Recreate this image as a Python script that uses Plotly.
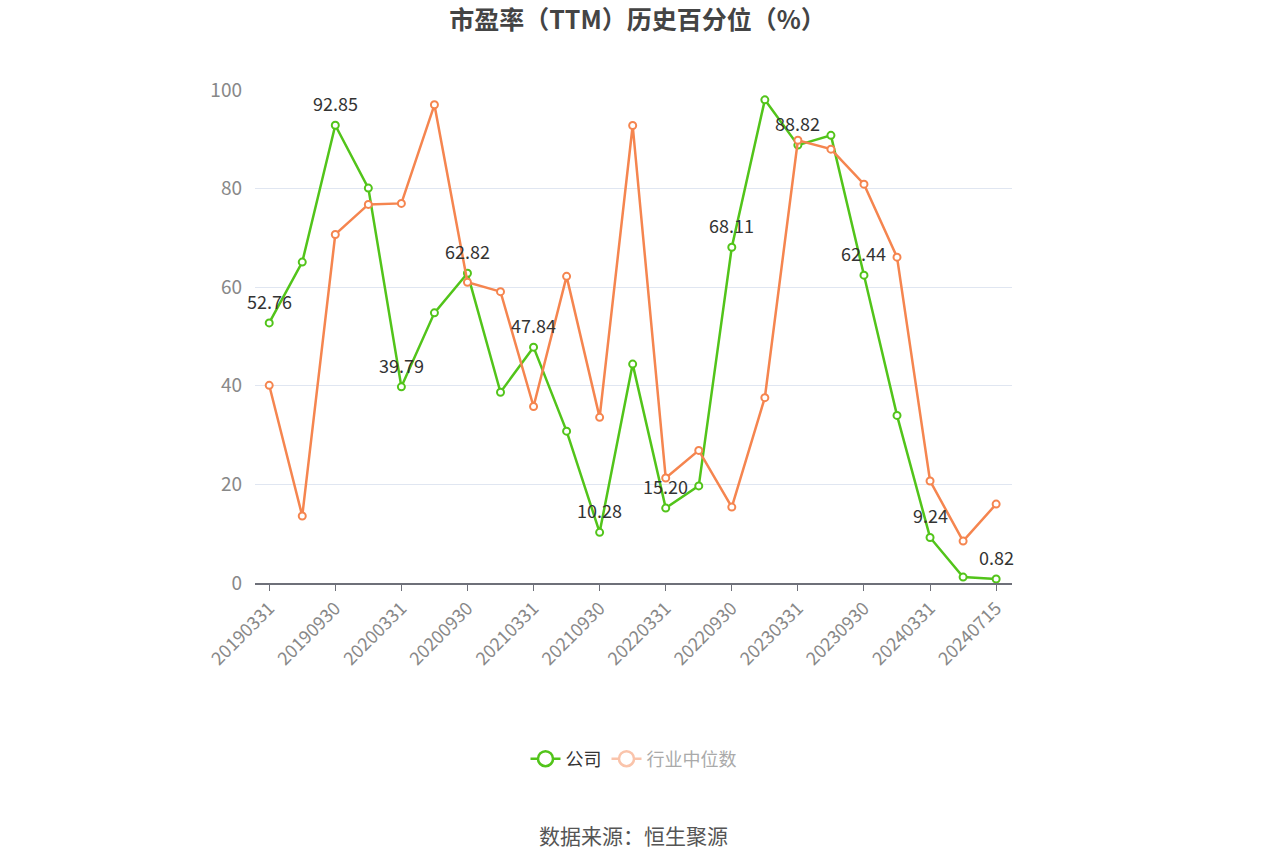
import plotly.graph_objects as go

dates = ["20190331","20190630","20190930","20191231","20200331","20200630","20200930","20201231",
         "20210331","20210630","20210930","20211231","20220331","20220630","20220930","20221231",
         "20230331","20230630","20230930","20231231","20240331","20240630","20240715"]
company = [52.76, 65.1, 92.85, 80.1, 39.79, 54.8, 62.82, 38.7, 47.84, 30.8, 10.28, 44.4,
           15.20, 19.7, 68.11, 98.0, 88.82, 90.8, 62.44, 34.0, 9.24, 1.2, 0.82]
industry = [40.1, 13.6, 70.7, 76.8, 77.0, 97.0, 61.0, 59.1, 35.8, 62.2, 33.6, 92.8,
            21.3, 26.9, 15.4, 37.6, 89.8, 88.0, 80.9, 66.1, 20.7, 8.5, 16.0]
label_idx = list(range(0, 23, 2))
tick_labels = [dates[i] for i in label_idx]

GREEN = "#52c41a"
ORANGE = "#f5854f"
FONT = "Noto Sans CJK SC"

xs = list(range(len(dates)))

fig = go.Figure()
fig.add_trace(go.Scatter(
    x=xs, y=company, mode="lines+markers", name="公司", showlegend=False,
    line=dict(color=GREEN, width=2.5),
    marker=dict(symbol="circle", size=7, color="white", line=dict(color=GREEN, width=2)),
    cliponaxis=False))
fig.add_trace(go.Scatter(
    x=xs, y=industry, mode="lines+markers", name="行业中位数", showlegend=False,
    line=dict(color=ORANGE, width=2.5),
    marker=dict(symbol="circle", size=7, color="white", line=dict(color=ORANGE, width=2)),
    cliponaxis=False))
# legend entries
fig.add_trace(go.Scatter(
    x=[None], y=[None], mode="lines+markers", name="公司",
    line=dict(color=GREEN, width=2.5),
    marker=dict(symbol="circle", size=15, color="white", line=dict(color=GREEN, width=2.5))))
fig.add_trace(go.Scatter(
    x=[None], y=[None], mode="lines+markers", name="<span style='color:#aaaaaa'>行业中位数</span>",
    line=dict(color="#fac4ab", width=2.5),
    marker=dict(symbol="circle", size=15, color="white", line=dict(color="#fac4ab", width=2.5))))

for i in label_idx:
    fig.add_annotation(x=xs[i], y=company[i], text=f"{company[i]:.2f}",
                       showarrow=False, yshift=22, font=dict(family=FONT, size=18, color="#333333"))

fig.update_layout(
    width=1275, height=862,
    paper_bgcolor="white", plot_bgcolor="white",
    margin=dict(l=255, r=263, t=90, b=279),
    title=dict(text="<b>市盈率（TTM）历史百分位（%）</b>", x=0.5, xanchor="center", y=1 - 20 / 862, yanchor="middle",
               font=dict(family=FONT, size=25, color="#444444")),
    font=dict(family=FONT),
    legend=dict(orientation="h", x=0.5, xanchor="center", y=-0.357, yanchor="middle",
                font=dict(family=FONT, size=18, color="#333333")),
    showlegend=True,
)
fig.update_xaxes(
    range=[-0.43, 22.48],
    tickmode="array", tickvals=label_idx, ticktext=tick_labels,
    tickangle=-45, ticks="outside", ticklen=6, tickcolor="#6e7079",
    showline=True, linecolor="#6e7079", linewidth=1.5,
    showgrid=False, zeroline=False,
    tickfont=dict(family=FONT, size=18, color="#888888"))
fig.update_yaxes(
    range=[0, 100], tickvals=[0, 20, 40, 60, 80, 100],
    showgrid=True, gridcolor="#e0e6f1", gridwidth=1,
    zeroline=False, showline=False, ticks="", ticklabelstandoff=12,
    tickfont=dict(family=FONT, size=19, color="#888888"))

fig.add_annotation(text="数据来源：恒生聚源", xref="paper", yref="paper", x=0.5, y=-0.511,
                   xanchor="center", yanchor="middle", showarrow=False,
                   font=dict(family=FONT, size=21, color="#555555"))

fig.write_html("out.html", config={"displayModeBar": False},
               post_script="document.body.style.margin='0';")
